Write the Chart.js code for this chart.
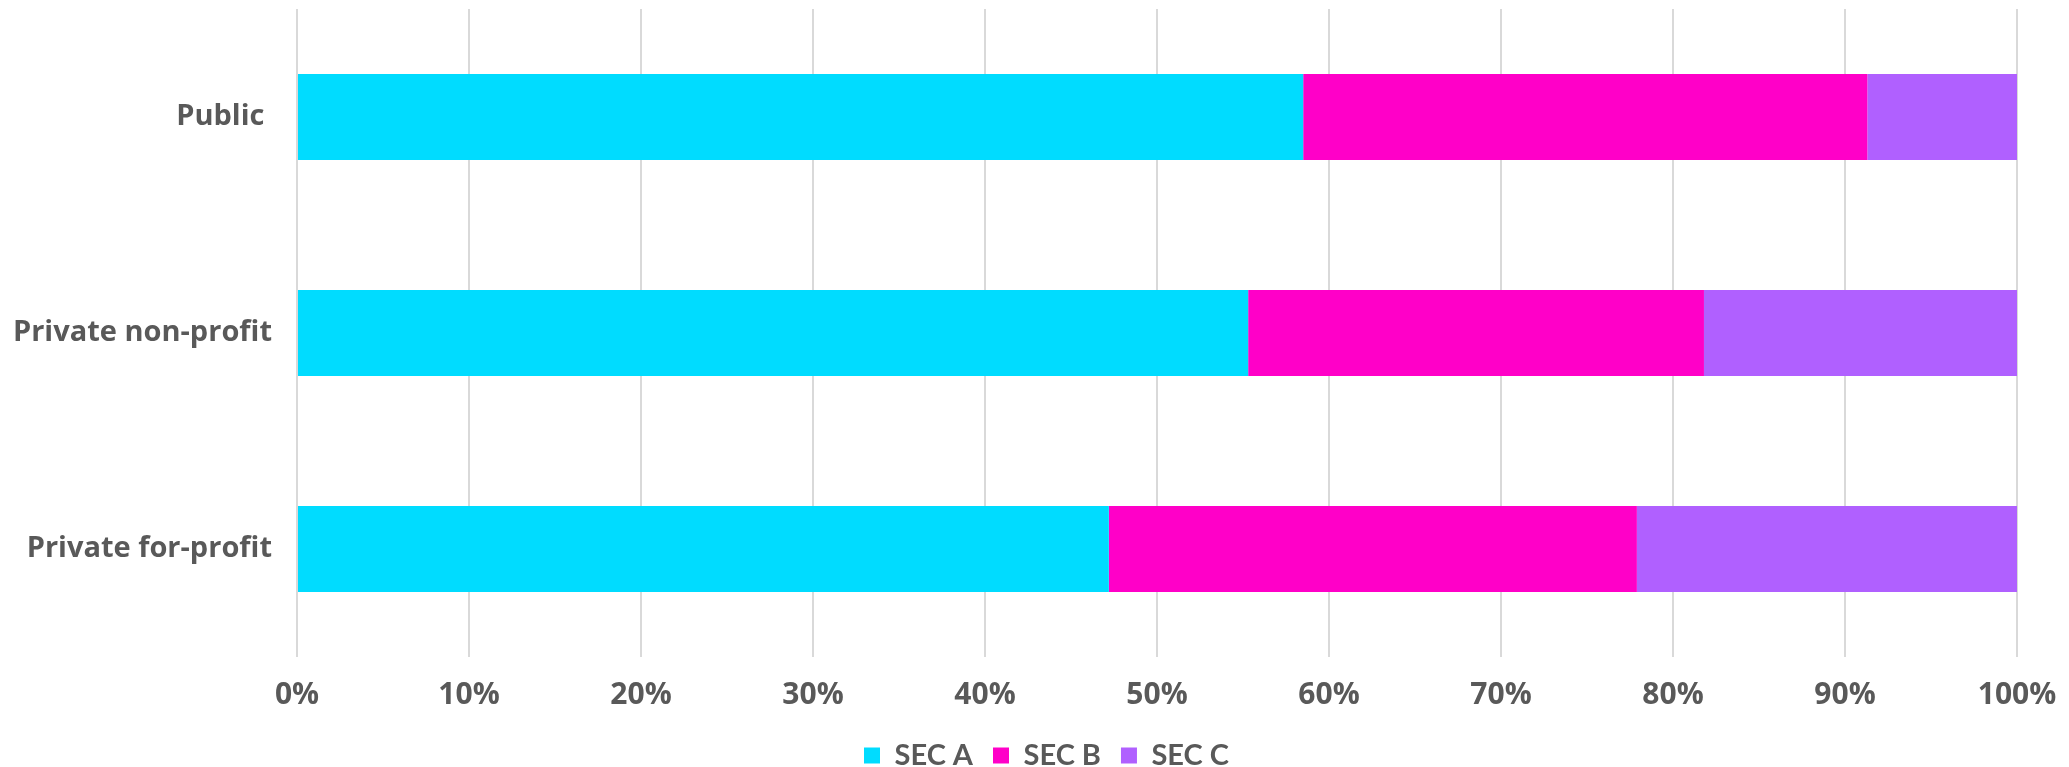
<!DOCTYPE html>
<html>
<head>
<meta charset="utf-8">
<script src="https://cdn.jsdelivr.net/npm/chart.js@4"></script>
<style>
  html, body { margin: 0; padding: 0; background: #fff; }
  #wrap { width: 2069px; height: 767px; position: relative; }
</style>
</head>
<body>
<div id="wrap"><canvas id="chart"></canvas></div>
<script>
// Share of students by socio-economic class, per school type (percent)
const categories = ['Public ', 'Private non-profit', 'Private for-profit'];
const secA = [58.5, 55.3, 47.2];
const secB = [32.8, 26.5, 30.7];
const secC = [8.7, 18.2, 22.1];
const xTicks = [0, 10, 20, 30, 40, 50, 60, 70, 80, 90, 100];

const TEXT = '#595959';
const GRID = '#d9d9d9';

const series = [
  { label: 'SEC A', data: secA, color: '#00dcff' },
  { label: 'SEC B', data: secB, color: '#ff00c8' },
  { label: 'SEC C', data: secC, color: '#b060ff' },
];

// keep the plot box where we want it: no label overhang padding
function noOverhang(s) {
  s.paddingTop = 0;
  s.paddingBottom = 0;
  s.paddingLeft = 0;
  s.paddingRight = 0;
}

// nudge the legend a bit right and down after layout
const legendNudge = {
  id: 'legendNudge',
  afterLayout(chart) {
    const lg = chart.legend;
    if (!lg) return;
    lg.left += 38; lg.right += 38;
    lg.top += 13; lg.bottom += 13;
  },
};

new Chart(document.getElementById('chart'), {
  type: 'bar',
  data: {
    labels: categories,
    datasets: series.map(s => ({
      label: s.label,
      data: s.data,
      backgroundColor: s.color,
      borderWidth: 0,
      categoryPercentage: 1,
      barPercentage: 0.397,
    })),
  },
  plugins: [legendNudge],
  options: {
    indexAxis: 'y',
    responsive: true,
    maintainAspectRatio: false,
    animation: false,
    layout: { padding: { top: 9, right: 52, left: 0, bottom: 0 } },
    plugins: {
      tooltip: { enabled: false },
      legend: {
        position: 'bottom',
        labels: {
          color: TEXT,
          boxWidth: 16,
          boxHeight: 16,
          padding: 20,
          font: { family: 'Lato', size: 29, weight: 'bold' },
        },
      },
    },
    scales: {
      x: {
        stacked: true,
        min: 0,
        max: 100,
        afterBuildTicks: axis => { axis.ticks = xTicks.map(v => ({ value: v })); },
        afterFit: s => { noOverhang(s); s.height = 51; },
        ticks: {
          color: TEXT,
          padding: 20,
          maxRotation: 0,
          font: { family: 'Open Sans', size: 30, weight: 'bold' },
          callback: v => v + '%',
        },
        grid: { color: GRID, lineWidth: 2, drawTicks: false },
        border: { display: false },
      },
      y: {
        stacked: true,
        afterFit: s => { noOverhang(s); s.width = 297; },
        ticks: {
          color: TEXT,
          padding: 17,
          font: { family: 'Open Sans', size: 29, weight: 'bold' },
        },
        grid: { display: false },
        border: { display: false },
      },
    },
  },
});
</script>
</body>
</html>
